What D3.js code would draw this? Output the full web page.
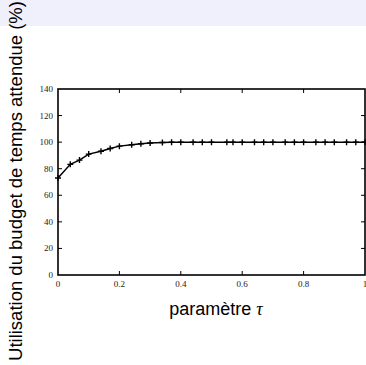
<!DOCTYPE html>
<html>
<head>
<meta charset="utf-8">
<script src="https://cdn.jsdelivr.net/npm/d3@7"></script>
<style>
  body { margin: 0; background: #fff; }
  svg { display: block; }
</style>
</head>
<body>
<div id="chart"></div>
<script>
// tau values and measured budget usage (%)
var tauValues = [0, 0.04, 0.07, 0.10, 0.14, 0.17, 0.20, 0.24, 0.27, 0.30, 0.34, 0.37, 0.40, 0.44, 0.47, 0.50,
                 0.55, 0.57, 0.60, 0.64, 0.67, 0.70, 0.74, 0.77, 0.80, 0.84, 0.87, 0.90, 0.94, 0.97, 1.0];
var usage = [73, 83.3, 86.5, 91, 93.2, 95.2, 97, 98, 98.8, 99.3, 99.7, 100, 100, 100, 100, 100,
             100, 100, 100, 100, 100, 100, 100, 100, 100, 100, 100, 100, 100, 100, 100];
var xTicks = [0, 0.2, 0.4, 0.6, 0.8, 1];
var yTicks = [0, 20, 40, 60, 80, 100, 120, 140];

var w = 366, h = 365;
var margin = {left: 58, right: 1, top: 89, bottom: 90};

var svg = d3.select('#chart').append('svg')
    .attr('width', w)
    .attr('height', h);

// lavender band across the top
svg.append('rect')
    .attr('x', 0).attr('y', 0)
    .attr('width', w).attr('height', 26)
    .attr('fill', '#eff0fb');

var xScale = d3.scaleLinear().domain([0, 1]).range([margin.left, w - margin.right]);
var yScale = d3.scaleLinear().domain([0, 140]).range([h - margin.bottom, margin.top]);

var plot = svg.append('g');

// frame
plot.append('rect')
    .attr('x', xScale(0)).attr('y', yScale(140))
    .attr('width', xScale(1) - xScale(0))
    .attr('height', yScale(0) - yScale(140))
    .attr('fill', 'none')
    .attr('stroke', '#000')
    .attr('stroke-width', 1.6);

// inward ticks on all four sides
var tl = 4;
xTicks.slice(1, -1).forEach(t => {
    plot.append('line').attr('x1', xScale(t)).attr('x2', xScale(t))
        .attr('y1', yScale(0)).attr('y2', yScale(0) - tl)
        .attr('stroke', '#000').attr('stroke-width', 1);
    plot.append('line').attr('x1', xScale(t)).attr('x2', xScale(t))
        .attr('y1', yScale(140)).attr('y2', yScale(140) + tl)
        .attr('stroke', '#000').attr('stroke-width', 1);
});
yTicks.slice(1, -1).forEach(t => {
    plot.append('line').attr('x1', xScale(0)).attr('x2', xScale(0) + tl)
        .attr('y1', yScale(t)).attr('y2', yScale(t))
        .attr('stroke', '#000').attr('stroke-width', 1);
    plot.append('line').attr('x1', xScale(1)).attr('x2', xScale(1) - tl)
        .attr('y1', yScale(t)).attr('y2', yScale(t))
        .attr('stroke', '#000').attr('stroke-width', 1);
});

// tick labels
plot.selectAll('.xlab').data(xTicks).enter().append('text')
    .attr('class', 'xlab')
    .attr('x', d => xScale(d))
    .attr('y', yScale(0) + 12)
    .attr('text-anchor', 'middle')
    .attr('font-family', 'Liberation Serif, serif')
    .attr('font-size', 9)
    .attr('fill', '#222')
    .text(d => d);

plot.selectAll('.ylab').data(yTicks).enter().append('text')
    .attr('class', 'ylab')
    .attr('x', xScale(0) - 5)
    .attr('y', d => yScale(d) + 3)
    .attr('text-anchor', 'end')
    .attr('font-family', 'Liberation Serif, serif')
    .attr('font-size', 9)
    .attr('fill', '#222')
    .text(d => d);

// the curve
var data = tauValues.map((t, i) => ({tau: t, v: usage[i]}));
var line = d3.line().x(d => xScale(d.tau)).y(d => yScale(d.v));
plot.append('path')
    .datum(data)
    .attr('d', line)
    .attr('fill', 'none')
    .attr('stroke', '#000')
    .attr('stroke-width', 1.5);

// plus markers
var m = 3;
plot.selectAll('.mark').data(data).enter().append('path')
    .attr('class', 'mark')
    .attr('d', d => {
        var x = xScale(d.tau), y = yScale(d.v);
        return `M${x - m},${y}H${x + m}M${x},${y - m}V${y + m}`;
    })
    .attr('stroke', '#000')
    .attr('stroke-width', 1.4);

// axis titles
var xt = svg.append('text')
    .attr('x', 216)
    .attr('y', 315)
    .attr('text-anchor', 'middle')
    .attr('font-family', 'Liberation Sans, Arial, sans-serif')
    .attr('font-size', 18)
    .attr('fill', '#000');
xt.append('tspan').text('paramètre ');
xt.append('tspan').attr('font-family', 'Liberation Serif, serif').attr('font-style', 'italic').text('τ');

svg.append('text')
    .attr('transform', 'translate(22, 181) rotate(-90)')
    .attr('text-anchor', 'middle')
    .attr('font-family', 'Liberation Sans, Arial, sans-serif')
    .attr('font-size', 18.5)
    .attr('fill', '#000')
    .text('Utilisation du budget de temps attendue (%)');
</script>
</body>
</html>
